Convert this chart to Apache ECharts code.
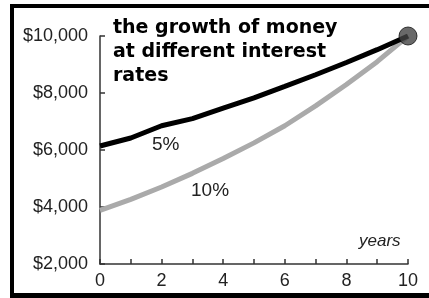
<!DOCTYPE html>
<html>
<head>
<meta charset="utf-8">
<script src="https://cdn.jsdelivr.net/npm/echarts@6/dist/echarts.min.js"></script>
<style>
  html, body { margin: 0; padding: 0; background: #fff; }
  #main { width: 429px; height: 298px; }
</style>
</head>
<body>
<div id="main"></div>
<script>
var years = [0, 1, 2, 3, 4, 5, 6, 7, 8, 9, 10]
var rate5 = [6140, 6420, 6850, 7100, 7470, 7830, 8230, 8640, 9070, 9520, 10000]
var rate10 = [3880, 4270, 4700, 5180, 5700, 6250, 6850, 7550, 8300, 9100, 10000]
var yTicks = [2000, 4000, 6000, 8000, 10000]
var titleLines = ['the growth of money', 'at different interest', 'rates']

var myChart = echarts.init(document.getElementById('main'))

function pairs(vals) {
  let out = []
  for (let i = 0; i < years.length; i++) {
    out.push([years[i], vals[i]])
  }
  return out
}

let font = '"Liberation Sans", Arial, sans-serif'

let option = {
  animation: false,
  grid: { left: 100, right: 21, top: 36, bottom: 34 },
  xAxis: {
    type: 'value',
    min: 0,
    max: 10,
    interval: 1,
    splitLine: { show: false },
    axisLine: { lineStyle: { color: '#333', width: 1.5 } },
    axisTick: { inside: true, length: 5, lineStyle: { color: '#333', width: 1.5 } },
    axisLabel: {
      margin: 8,
      fontSize: 18,
      fontFamily: font,
      color: '#222',
      formatter: function (v) { return v % 2 === 0 ? String(v) : '' }
    }
  },
  yAxis: {
    type: 'value',
    min: yTicks[0],
    max: yTicks[yTicks.length - 1],
    interval: 2000,
    splitLine: { show: false },
    axisLine: { show: true, lineStyle: { color: '#333', width: 1.5 } },
    axisTick: { show: true, inside: true, length: 5, lineStyle: { color: '#333', width: 1.5 } },
    axisLabel: {
      margin: 12,
      fontSize: 18,
      fontFamily: font,
      color: '#222',
      formatter: function (v) { return '$' + v.toLocaleString('en-US') }
    }
  },
  series: [
    {
      name: '10%',
      type: 'line',
      data: pairs(rate10),
      symbol: 'none',
      lineStyle: { color: '#aaaaaa', width: 5 },
      z: 2
    },
    {
      name: '5%',
      type: 'line',
      data: pairs(rate5),
      symbol: 'none',
      lineStyle: { color: '#000', width: 5 },
      z: 3
    },
    {
      type: 'scatter',
      data: [[years[years.length - 1], rate5[rate5.length - 1]]],
      symbolSize: 18,
      itemStyle: { color: '#444', borderColor: '#111', borderWidth: 1 },
      z: 4
    }
  ],
  graphic: [
    { type: 'rect', shape: { x: 10, y: 4, width: 419, height: 4 }, style: { fill: '#000' } },
    { type: 'rect', shape: { x: 10, y: 4, width: 4, height: 294 }, style: { fill: '#000' } },
    { type: 'rect', shape: { x: 10, y: 293, width: 419, height: 5 }, style: { fill: '#000' } },
    {
      type: 'text', left: 113, top: 16,
      style: {
        text: titleLines.join('\n'),
        font: 'bold 19px "DejaVu Sans", sans-serif',
        lineHeight: 24,
        fill: '#000'
      }
    },
    { type: 'text', left: 152, top: 135, style: { text: '5%', font: '19px ' + font, fill: '#222' } },
    { type: 'text', left: 191, top: 181, style: { text: '10%', font: '19px ' + font, fill: '#222' } },
    { type: 'text', left: 359, top: 233, style: { text: 'years', font: 'italic 17px ' + font, fill: '#222' } }
  ]
}

myChart.setOption(option)
</script>
</body>
</html>
